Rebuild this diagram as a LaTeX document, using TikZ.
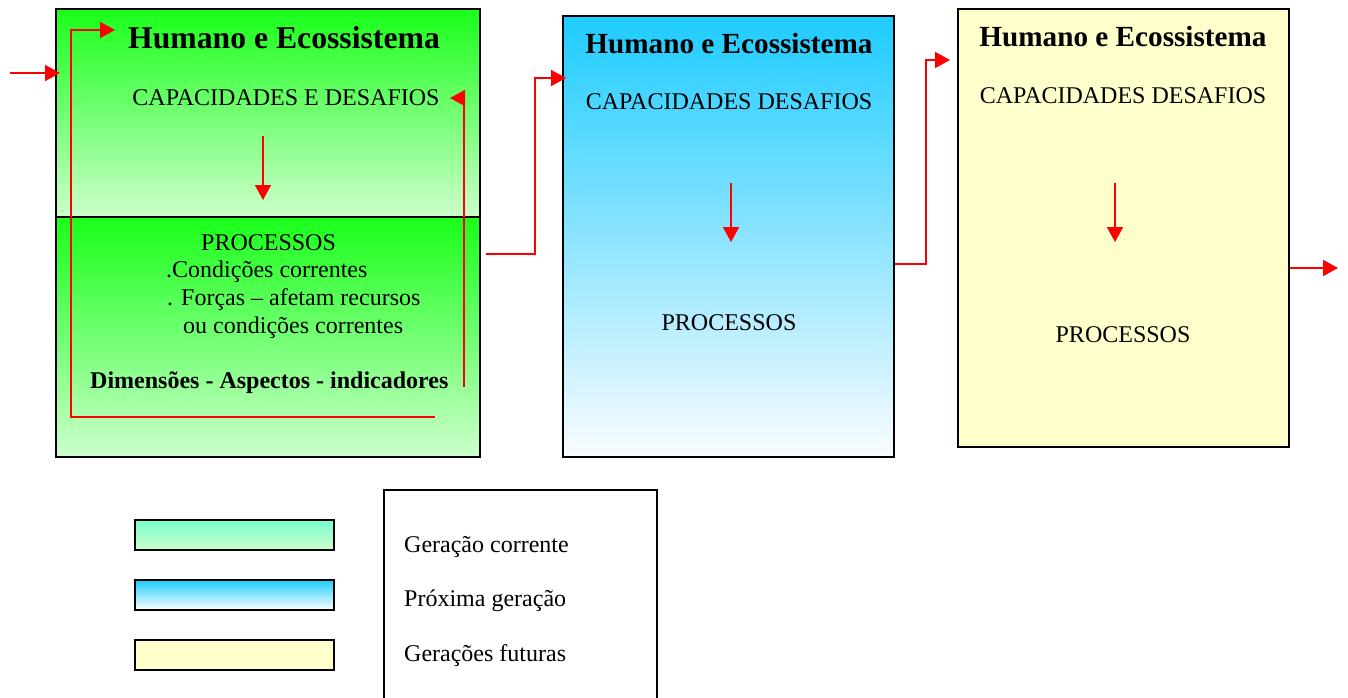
\documentclass[tikz,border=0pt]{standalone}
\usepackage{fontspec}
\setmainfont{Liberation Serif}
\usetikzlibrary{arrows.meta}
\definecolor{greenTop}{RGB}{26,255,26}
\definecolor{greenBot}{RGB}{204,255,204}
\definecolor{aquaTop}{RGB}{120,255,206}
\definecolor{blueTop}{RGB}{30,204,255}
\definecolor{blueBot}{RGB}{250,252,255}
\definecolor{paleYellow}{RGB}{255,255,204}
\begin{document}
\begin{tikzpicture}[x=1pt,y=-1pt,
  panel/.style={draw=black, line width=1.5pt, anchor=north west, inner sep=0pt, outer sep=0pt},
  flow/.style={draw=red, line width=1.8pt, -{Triangle[length=15pt,width=16pt]}},
  bigtitle/.style={font=\fontsize{31.7}{36}\selectfont\bfseries, anchor=base, inner sep=0pt},
  title/.style={font=\fontsize{29.2}{34}\selectfont\bfseries, anchor=base, inner sep=0pt},
  body/.style={font=\fontsize{24}{28}\selectfont, anchor=base, inner sep=0pt},
  bodyleft/.style={body, anchor=base west},
]
\useasboundingbox (0,0) rectangle (1348,698);
\fill[white] (0,0) rectangle (1348,698);

% current generation: two stacked panels
\node[panel, minimum width=424pt, minimum height=208pt, top color=greenTop, bottom color=greenBot] (curTop) at (56,9) {};
\node[panel, minimum width=424pt, minimum height=240pt, top color=greenTop, bottom color=greenBot] (curBot) at (56,217) {};

% next generation
\node[panel, minimum width=331pt, minimum height=441pt, top color=blueTop, bottom color=blueBot] (nxt) at (563,16) {};

% future generations
\node[panel, minimum width=331pt, minimum height=438pt, fill=paleYellow] (fut) at (958,9) {};

% texts of the current generation
\node[bigtitle] (curTitle) at (284,49) {Humano e Ecossistema};
\node[body] (curCap) at (286,106) {CAPACIDADES E DESAFIOS};
\node[bodyleft] (curProc) at (201,250) {PROCESSOS};
\node[bodyleft] (curCond) at (166,277) {.Condições correntes};
\node[bodyleft] (curForc) at (167,305) {. Forças – afetam recursos};
\node[bodyleft] (curOu) at (183,333) {ou condições correntes};
\node[bodyleft, font=\fontsize{24}{28}\selectfont\bfseries] (curDim) at (90,388) {Dimensões - Aspectos - indicadores};

% texts of the next generation
\node[title] (nxtTitle) at (729,54) {Humano e Ecossistema};
\node[body] (nxtCap) at (729,110) {CAPACIDADES DESAFIOS};
\node[body] (nxtProc) at (729,330) {PROCESSOS};

% texts of the future generations
\node[title] (futTitle) at (1123,47) {Humano e Ecossistema};
\node[body] (futCap) at (1123,103) {CAPACIDADES DESAFIOS};
\node[body] (futProc) at (1123,342) {PROCESSOS};

% arrow end points
\coordinate (inStart) at (10,73);
\coordinate (inEnd) at (60,73);
\coordinate (loopA) at (435,417);
\coordinate (loopB) at (71,417);
\coordinate (loopC) at (71,30);
\coordinate (loopD) at (115,30);
\coordinate (backA) at (464,387);
\coordinate (backB) at (464,98);
\coordinate (backC) at (450,98);
\coordinate (downA1) at (263,136);
\coordinate (downA2) at (263,200);
\coordinate (downB1) at (731,183);
\coordinate (downB2) at (731,242);
\coordinate (downC1) at (1115,183);
\coordinate (downC2) at (1115,242);
\coordinate (linkA1) at (486,254);
\coordinate (linkA2) at (535,254);
\coordinate (linkA3) at (535,78);
\coordinate (linkA4) at (566,78);
\coordinate (linkB1) at (895,264);
\coordinate (linkB2) at (926,264);
\coordinate (linkB3) at (926,60);
\coordinate (linkB4) at (950,60);
\coordinate (outStart) at (1290,268);
\coordinate (outEnd) at (1338,268);

% red flow arrows
\draw[flow] (inStart) -- (inEnd);
\draw[flow] (loopA) -- (loopB) -- (loopC) -- (loopD);
\draw[flow] (backA) -- (backB) -- (backC);
\draw[flow] (downA1) -- (downA2);
\draw[flow] (downB1) -- (downB2);
\draw[flow] (downC1) -- (downC2);
\draw[flow] (linkA1) -- (linkA2) -- (linkA3) -- (linkA4);
\draw[flow] (linkB1) -- (linkB2) -- (linkB3) -- (linkB4);
\draw[flow] (outStart) -- (outEnd);

% legend
\node[panel, minimum width=199pt, minimum height=30pt, top color=aquaTop, bottom color=greenBot] (keyCur) at (135,520) {};
\node[panel, minimum width=199pt, minimum height=30pt, top color=blueTop, bottom color=white] (keyNxt) at (135,580) {};
\node[panel, minimum width=199pt, minimum height=30pt, fill=paleYellow] (keyFut) at (135,640) {};
\node[panel, minimum width=273pt, minimum height=230pt, fill=white] (keyBox) at (384,490) {};
\node[bodyleft] (keyCurTxt) at (404,552) {Geração corrente};
\node[bodyleft] (keyNxtTxt) at (404,606) {Próxima geração};
\node[bodyleft] (keyFutTxt) at (404,661) {Gerações futuras};
\end{tikzpicture}
\end{document}
